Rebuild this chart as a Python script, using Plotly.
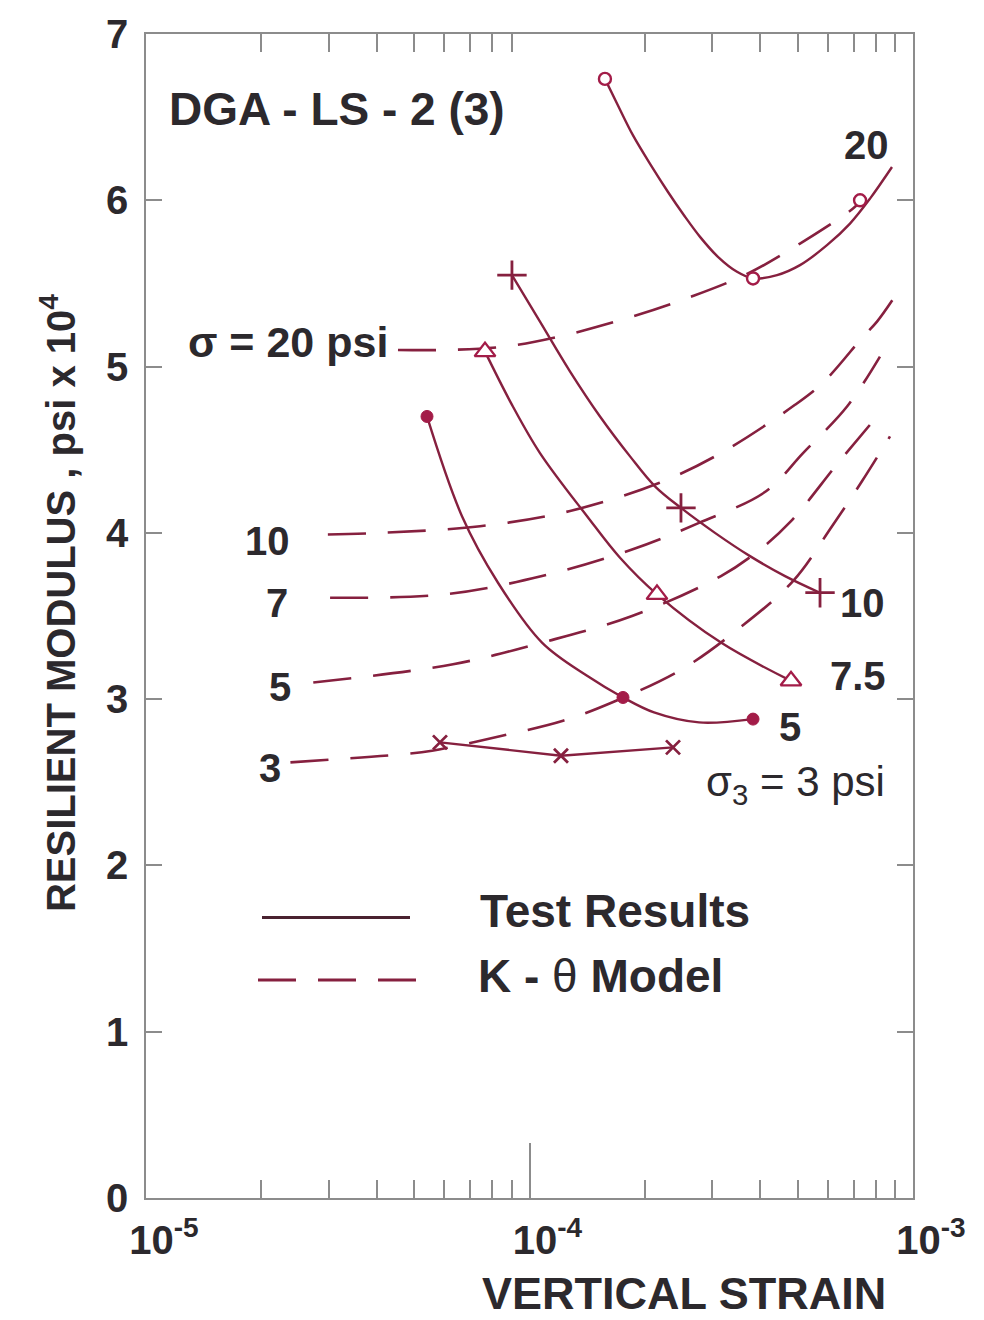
import plotly.graph_objects as go

# ---------------- data (strain, modulus in psi x 10^4) ----------------
# K-theta model curves (dashed)
model_20_x = [4.54e-5, 6.02e-5, 8.63e-5, 1.194e-4, 1.851e-4, 2.638e-4, 3.714e-4, 5.074e-4, 6.976e-4, 7.277e-4]
model_20_y = [5.10, 5.10, 5.12, 5.18, 5.30, 5.42, 5.56, 5.74, 5.95, 5.99]

model_10_x = [2.98e-5, 4.08e-5, 7.43e-5, 1.268e-4, 2.176e-4, 3.157e-4, 4.924e-4, 5.861e-4, 7.41e-4, 8.056e-4, 9.14e-4]
model_10_y = [3.99, 4.00, 4.04, 4.13, 4.30, 4.48, 4.77, 4.91, 5.18, 5.27, 5.45]

model_7_x = [3.02e-5, 5.99e-5, 1.078e-4, 1.851e-4, 2.767e-4, 4.138e-4, 5.167e-4, 6.73e-4, 8.20e-4]
model_7_y = [3.61, 3.63, 3.74, 3.90, 4.06, 4.25, 4.48, 4.76, 5.06]

model_5_x = [2.73e-5, 6.32e-5, 1.078e-4, 1.851e-4, 3.157e-4, 3.99e-4, 4.807e-4, 6.376e-4, 8.056e-4]
model_5_y = [3.10, 3.21, 3.34, 3.50, 3.74, 3.90, 4.07, 4.42, 4.70]

model_3_x = [2.38e-5, 4.74e-5, 5.57e-5, 8.48e-5, 1.223e-4, 1.641e-4, 2.498e-4, 3.539e-4, 4.865e-4, 6.15e-4, 7.36e-4, 8.71e-4]
model_3_y = [2.62, 2.67, 2.69, 2.78, 2.87, 2.98, 3.18, 3.43, 3.71, 4.04, 4.31, 4.58]

# Test results (solid curves + measured points)
test_20_curve_x = [1.573e-4, 1.701e-4, 1.862e-4, 2.074e-4, 2.297e-4, 2.528e-4, 2.784e-4, 3.100e-4, 3.476e-4,
                   3.827e-4, 4.42e-4, 5.074e-4, 5.967e-4, 6.85e-4, 7.725e-4, 8.815e-4]
test_20_curve_y = [6.73, 6.57, 6.39, 6.21, 6.05, 5.91, 5.78, 5.66, 5.57, 5.53, 5.55, 5.61, 5.73, 5.86, 6.01, 6.20]
test_20_pts_x = [1.573e-4, 3.827e-4, 7.277e-4]
test_20_pts_y = [6.73, 5.53, 6.00]

test_10_curve_x = [9.00e-5, 1.065e-4, 1.276e-4, 1.527e-4, 1.829e-4, 2.124e-4, 2.483e-4, 3.045e-4, 3.758e-4,
                   4.638e-4, 5.722e-4]
test_10_curve_y = [5.55, 5.27, 4.97, 4.70, 4.46, 4.28, 4.15, 4.00, 3.86, 3.74, 3.64]
test_10_pts_x = [9.00e-5, 2.483e-4, 5.722e-4]
test_10_pts_y = [5.55, 4.15, 3.64]

test_75_curve_x = [7.656e-5, 9.003e-5, 1.065e-4, 1.413e-4, 1.722e-4, 2.150e-4, 3.157e-4, 4.807e-4]
test_75_curve_y = [5.09, 4.77, 4.48, 4.10, 3.85, 3.63, 3.34, 3.11]
test_75_pts_x = [7.656e-5, 2.150e-4, 4.807e-4]
test_75_pts_y = [5.09, 3.63, 3.11]

test_5_curve_x = [5.404e-5, 6.668e-5, 8.277e-5, 1.078e-4, 1.413e-4, 1.753e-4, 2.112e-4, 2.767e-4, 3.827e-4]
test_5_curve_y = [4.70, 4.10, 3.70, 3.34, 3.14, 3.01, 2.92, 2.86, 2.88]
test_5_pts_x = [5.404e-5, 1.753e-4, 3.827e-4]
test_5_pts_y = [4.70, 3.01, 2.88]

test_3_x = [5.842e-5, 1.208e-4, 2.367e-4]
test_3_y = [2.74, 2.66, 2.71]

x_tick_vals = [1e-5, 1e-4, 1e-3]
x_tick_text = ["10<sup>-5</sup>", "10<sup>-4</sup>", "10<sup>-3</sup>"]
x_minor_vals = [2e-5, 3e-5, 4e-5, 5e-5, 6e-5, 7e-5, 8e-5, 9e-5,
                2e-4, 3e-4, 4e-4, 5e-4, 6e-4, 7e-4, 8e-4, 9e-4]
y_tick_vals = [0, 1, 2, 3, 4, 5, 6, 7]

# ---------------- styling ----------------
W, H = 984, 1320
L, R, T, B = 146, 71, 28, 122
LINE = "#86203f"
MARK = "#a31c48"
TXT = "#2c292d"
AX = "#8c8c8c"
FONT = "Liberation Sans, Arial, Helvetica, sans-serif"
DASH = "38px,22px"


def px(xp):
    return (xp - L) / (W - L - R)


def py(yp):
    return (H - B - yp) / (H - B - T)


fig = go.Figure()

for mx, my in [(model_20_x, model_20_y), (model_10_x, model_10_y), (model_7_x, model_7_y),
               (model_5_x, model_5_y), (model_3_x, model_3_y)]:
    fig.add_trace(go.Scatter(x=mx, y=my, mode="lines", line=dict(color=LINE, width=2.6, dash=DASH, shape="spline"),
                             showlegend=False, hoverinfo="skip"))

for cx, cy in [(test_20_curve_x, test_20_curve_y), (test_10_curve_x, test_10_curve_y),
               (test_75_curve_x, test_75_curve_y), (test_5_curve_x, test_5_curve_y)]:
    fig.add_trace(go.Scatter(x=cx, y=cy, mode="lines", line=dict(color=LINE, width=2.4, shape="spline", smoothing=1.0),
                             showlegend=False, hoverinfo="skip"))

fig.add_trace(go.Scatter(x=test_3_x, y=test_3_y, mode="lines+markers",
                         line=dict(color=LINE, width=2.4),
                         marker=dict(symbol="x-thin", size=14, line=dict(color=LINE, width=2.8)),
                         showlegend=False))

fig.add_trace(go.Scatter(x=test_20_pts_x, y=test_20_pts_y, mode="markers",
                         marker=dict(symbol="circle", size=12, color="white", line=dict(color=MARK, width=2.4)),
                         showlegend=False))
fig.add_trace(go.Scatter(x=test_10_pts_x, y=test_10_pts_y, mode="markers",
                         marker=dict(symbol="cross-thin", size=21, line=dict(color=LINE, width=2.8)),
                         showlegend=False))
fig.add_trace(go.Scatter(x=test_75_pts_x, y=test_75_pts_y, mode="markers",
                         marker=dict(symbol="triangle-up", size=18, color="white", line=dict(color=MARK, width=2.4)),
                         showlegend=False))
fig.add_trace(go.Scatter(x=test_5_pts_x, y=test_5_pts_y, mode="markers",
                         marker=dict(symbol="circle", size=12, color=MARK, line=dict(color=MARK, width=1)),
                         showlegend=False))

# empty trace to create top axis (minor ticks only)
fig.add_trace(go.Scatter(x=[], y=[], xaxis="x2", yaxis="y", showlegend=False))

fig.update_layout(
    width=W, height=H,
    margin=dict(l=L, r=R, t=T, b=B),
    paper_bgcolor="white", plot_bgcolor="white",
    font=dict(family=FONT, color=TXT),
    xaxis=dict(type="log", range=[-5, -3], tickmode="array", tickvals=x_tick_vals, ticktext=x_tick_text,
               ticks="inside", ticklen=55, tickwidth=1.5, tickcolor=AX, ticklabelshift=18, ticklabelstandoff=6,
               minor=dict(tickmode="array", tickvals=x_minor_vals, ticks="inside", ticklen=18, tickwidth=1.5,
                          tickcolor=AX, showgrid=False),
               showline=True, linecolor=AX, linewidth=1.5, showgrid=False, zeroline=False,
               tickfont=dict(size=40, family=FONT, color=TXT, weight="bold")),
    xaxis2=dict(type="log", range=[-5, -3], overlaying="x", side="top", anchor="y",
                tickmode="array", tickvals=x_minor_vals, ticks="inside", ticklen=18, tickwidth=1.5, tickcolor=AX,
                showticklabels=False, showline=True, linecolor=AX, linewidth=1.5, showgrid=False, zeroline=False),
    yaxis=dict(range=[0, 7], tickmode="array", tickvals=y_tick_vals, ticks="inside", ticklen=16, tickwidth=1.5,
               tickcolor=AX, showline=True, linecolor=AX, linewidth=1.5, mirror="ticks", showgrid=False,
               zeroline=False, ticklabelstandoff=8,
               tickfont=dict(size=40, family=FONT, color=TXT, weight="bold")),
)

ann = []


def add_text(text, x, y, size=40, xanchor="center", yanchor="middle", angle=0):
    ann.append(dict(text=text, x=px(x), y=py(y), xref="paper", yref="paper", showarrow=False,
                    xanchor=xanchor, yanchor=yanchor, textangle=angle,
                    font=dict(size=size, family=FONT, color=TXT)))


add_text("<b>DGA - LS - 2 (3)</b>", 167, 103, size=46, xanchor="left")
add_text("<b>20</b>", 866, 140, size=40)
add_text("<b>σ = 20 psi</b>", 390, 338, size=43, xanchor="right")
add_text("<b>10</b>", 267, 538, size=40)
add_text("<b>7</b>", 277, 600, size=40)
add_text("<b>5</b>", 280, 684, size=40)
add_text("<b>3</b>", 270, 766, size=40)
add_text("<b>10</b>", 838, 600, size=40, xanchor="left")
add_text("<b>7.5</b>", 828, 673, size=40, xanchor="left")
add_text("<b>5</b>", 790, 725, size=40)
add_text("σ<sub>3</sub> = 3 psi", 795, 782, size=42)
add_text("<b>Test Results</b>", 478, 910, size=46, xanchor="left")
add_text("<b>K - </b>θ<b> Model</b>", 476, 975, size=46, xanchor="left")
add_text("<b>RESILIENT MODULUS , psi x 10<sup>4</sup></b>", 58, 600, size=40, angle=-90)
add_text("<b>VERTICAL STRAIN</b>", 684, 1294, size=45)
fig.update_layout(annotations=ann)

# legend line samples
fig.add_shape(type="line", xref="paper", yref="paper", x0=px(262), x1=px(410), y0=py(916), y1=py(916),
              line=dict(color="#4a2230", width=3))
fig.add_shape(type="line", xref="paper", yref="paper", x0=px(258), x1=px(420), y0=py(979), y1=py(979),
              line=dict(color=LINE, width=3, dash="38px,22px"))

fig.write_html("out.html")
